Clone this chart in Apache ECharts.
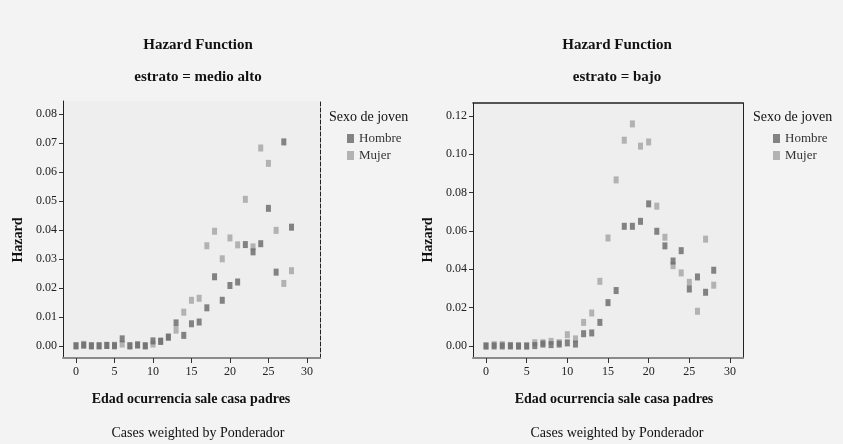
<!DOCTYPE html>
<html><head><meta charset="utf-8">
<script src="https://cdn.jsdelivr.net/npm/echarts@6/dist/echarts.min.js"></script>
<style>html,body{margin:0;padding:0;background:#f3f3f3;}#c{width:843px;height:444px;}</style>
</head><body><div id="c"></div>
<script>
const ages = [0,1,2,3,4,5,6,7,8,9,10,11,12,13,14,15,16,17,18,19,20,21,22,23,24,25,26,27,28];
const altoHombre = [0,0.0002,0,0,0.0001,0,0.0024,0,0.0003,0,0.0017,0.0015,0.003,0.0079,0.0036,0.0076,0.0082,0.0131,0.0238,0.0157,0.0208,0.022,0.0349,0.0324,0.0352,0.0474,0.0254,0.0703,0.0409];
const altoMujer = [0,0.0005,0,0,0.0002,0.0002,0.0006,0,0.0003,0,0.0006,0.0017,0.003,0.0054,0.0116,0.0157,0.0164,0.0345,0.0395,0.030,0.0372,0.0348,0.0505,0.0341,0.0682,0.0629,0.0398,0.0215,0.0259];
const bajoHombre = [0,0,0,0,0,0,0.0002,0.001,0.0007,0.001,0.0016,0.001,0.0064,0.0068,0.0123,0.0226,0.0289,0.0624,0.0624,0.065,0.0741,0.0598,0.0522,0.0443,0.0497,0.0297,0.036,0.028,0.0395];
const bajoMujer = [0,0.0007,0.0007,0.0003,0,0,0.0017,0.0017,0.0024,0.0017,0.0059,0.0037,0.0123,0.0172,0.0337,0.0563,0.0866,0.1073,0.1158,0.1042,0.1064,0.0729,0.0567,0.0419,0.0381,0.0332,0.0181,0.0557,0.0317];
const xTicks = [0,5,10,15,20,25,30];
const yTicksAlto = [0,0.01,0.02,0.03,0.04,0.05,0.06,0.07,0.08];
const yTicksBajo = [0,0.02,0.04,0.06,0.08,0.10,0.12];
const seriesNames = ['Hombre','Mujer'];
const titleMain = 'Hazard Function';
const strata = ['estrato = medio alto','estrato = bajo'];
const xName = 'Edad ocurrencia sale casa padres';
const yName = 'Hazard';
const footnote = 'Cases weighted by Ponderador';
const legendTitle = 'Sexo de joven';

const FONT = '"Liberation Serif", "DejaVu Serif", serif';
const DARK = '#666666', LIGHT = '#a3a3a3';
const pairs = a => ages.map((x,i)=>[x,a[i]]);

function xAxisCfg(gi, min, max){
  return {type:'value', gridIndex:gi, min:min, max:max, position:'bottom',
    axisLine:{show:true, onZero:false, lineStyle:{color:'#8a8a8a', width:2}},
    axisTick:{show:true, customValues:xTicks, length:5, lineStyle:{color:'#333'}},
    axisLabel:{customValues:xTicks, color:'#222', fontFamily:FONT, fontSize:12, margin:8},
    splitLine:{show:false}};
}
function yAxisCfg(gi, min, max, ticks){
  return {type:'value', gridIndex:gi, min:min, max:max, position:'left',
    axisLine:{show:true, onZero:false, lineStyle:{color:'#222', width:1}},
    axisTick:{show:true, customValues:ticks, length:4, lineStyle:{color:'#333'}},
    axisLabel:{customValues:ticks, color:'#222', fontFamily:FONT, fontSize:12, margin:6, formatter:v=>v.toFixed(2)},
    splitLine:{show:false}};
}
function edgeY(gi, min, max, type){
  return {type:'value', gridIndex:gi, min:min, max:max, position:'right',
    axisLine:{show:true, onZero:false, lineStyle:{color:'#222', width:1, type:type}},
    axisTick:{show:false}, axisLabel:{show:false}, splitLine:{show:false}};
}
const sym = {symbol:'rect', symbolSize:[5,7]};
const chart = echarts.init(document.getElementById('c'));
const txt = (text, left, top, bold, size) => ({text:text, left:left, top:top, textAlign:'center',
  textStyle:{fontFamily:FONT, fontSize:size||13, fontWeight:bold?'bold':'normal', color:'#111'}});
chart.setOption({
  backgroundColor:'#f3f3f3',
  animation:false,
  title:[
    txt(titleMain,193,33,true,15), txt(strata[0],193,65,true,15),
    txt(titleMain,612,33,true,15), txt(strata[1],612,65,true,15),
    txt(xName,186,387,true,14), txt(xName,609,387,true,14),
    txt(footnote,193,421,false,14), txt(footnote,612,421,false,14)
  ],
  graphic:[
    {type:'text', x:18, y:240, rotation:Math.PI/2, style:{text:yName, font:'bold 14px '+FONT, fill:'#111', align:'center', verticalAlign:'middle'}},
    {type:'text', x:428, y:240, rotation:Math.PI/2, style:{text:yName, font:'bold 14px '+FONT, fill:'#111', align:'center', verticalAlign:'middle'}},
    {type:'text', x:329, y:117, style:{text:legendTitle, font:'14px '+FONT, fill:'#111', verticalAlign:'middle'}},
    {type:'text', x:753, y:117, style:{text:legendTitle, font:'14px '+FONT, fill:'#111', verticalAlign:'middle'}}
  ],
  legend:[
    {data:seriesNames, left:342, top:127, orient:'vertical', itemWidth:7, itemHeight:9, itemGap:4, icon:'rect',
      textStyle:{fontFamily:FONT, fontSize:13, color:'#333'}, selectedMode:false},
    {data:seriesNames, left:768, top:127, orient:'vertical', itemWidth:7, itemHeight:9, itemGap:4, icon:'rect',
      textStyle:{fontFamily:FONT, fontSize:13, color:'#333'}, selectedMode:false}
  ],
  grid:[
    {left:63, top:101, width:257, height:257, show:true, backgroundColor:'#eeeeee', borderWidth:0},
    {left:473, top:103, width:270, height:255, show:true, backgroundColor:'#eeeeee', borderWidth:0}
  ],
  xAxis:[
    xAxisCfg(0,-1.69,31.7),
    xAxisCfg(1,-1.6,31.6),
    {type:'value', gridIndex:1, min:-1.6, max:31.6, position:'top',
      axisLine:{show:true, onZero:false, lineStyle:{color:'#222', width:1.5}},
      axisTick:{show:false}, axisLabel:{show:false}, splitLine:{show:false}}
  ],
  yAxis:[
    yAxisCfg(0,-0.0042,0.0844,yTicksAlto),
    yAxisCfg(1,-0.00627,0.1267,yTicksBajo),
    edgeY(0,-0.0042,0.0844,'dashed'),
    edgeY(1,-0.00627,0.1267,'solid')
  ],
  series:[
    Object.assign({name:seriesNames[0], type:'scatter', xAxisIndex:0, yAxisIndex:0, data:pairs(altoHombre), itemStyle:{color:DARK}, z:3}, sym),
    Object.assign({name:seriesNames[1], type:'scatter', xAxisIndex:0, yAxisIndex:0, data:pairs(altoMujer), itemStyle:{color:LIGHT}, z:2}, sym),
    Object.assign({name:seriesNames[0], type:'scatter', xAxisIndex:1, yAxisIndex:1, data:pairs(bajoHombre), itemStyle:{color:DARK}, z:3}, sym),
    Object.assign({name:seriesNames[1], type:'scatter', xAxisIndex:1, yAxisIndex:1, data:pairs(bajoMujer), itemStyle:{color:LIGHT}, z:2}, sym)
  ]
});
</script></body></html>
